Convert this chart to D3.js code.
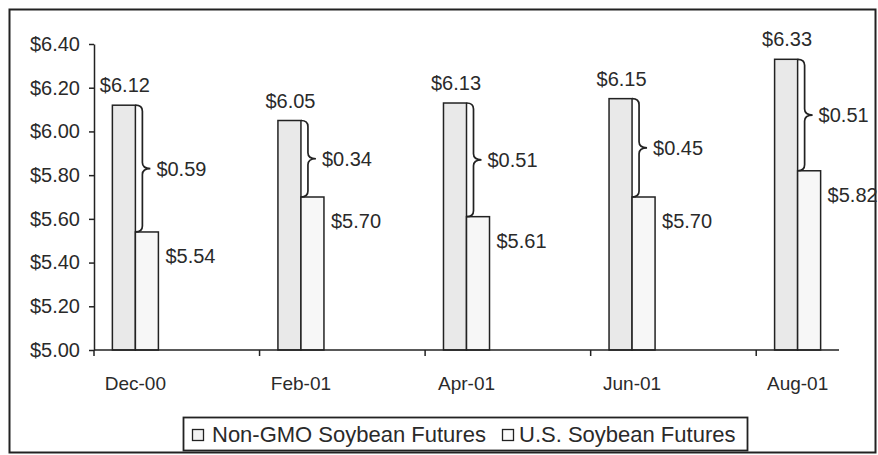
<!DOCTYPE html>
<html>
<head>
<meta charset="utf-8">
<script src="https://cdn.jsdelivr.net/npm/d3@7"></script>
<style>
  html, body { margin: 0; padding: 0; background: #fff; }
  svg { display: block; }
  text { font-family: "Liberation Sans", Arial, sans-serif; fill: #2a2a2a; }
</style>
</head>
<body>
<svg id="chart" width="878" height="455"></svg>
<script>
// ---- data ----
const months = ["Dec-00","Jan-01","Feb-01","Mar-01","Apr-01","May-01","Jun-01","Jul-01","Aug-01"];
const categories = ["Dec-00","Feb-01","Apr-01","Jun-01","Aug-01"];
const nonGMO = [6.12, 6.05, 6.13, 6.15, 6.33];
const usSoy = [5.54, 5.70, 5.61, 5.70, 5.82];
const premium = [0.59, 0.34, 0.51, 0.45, 0.51];
const yTicks = [5.00, 5.20, 5.40, 5.60, 5.80, 6.00, 6.20, 6.40];
const seriesNames = ["Non-GMO Soybean Futures", "U.S. Soybean Futures"];

// ---- layout ----
const svg = d3.select("#chart");
const plot = { left: 94, right: 839, top: 44, bottom: 350 };

// outer border
svg.append("rect").attr("x", 9.5).attr("y", 9.5).attr("width", 866).attr("height", 443)
  .attr("fill", "#fff").attr("stroke", "#222").attr("stroke-width", 2);

const x = d3.scaleBand().domain(months).range([plot.left, plot.right]).padding(0);
const y = d3.scaleLinear().domain([5.0, 6.4]).range([plot.bottom, plot.top]);
const barW = x.bandwidth() * 0.278;
const fmt = d3.format("$.2f");

// y axis
const yAxis = svg.append("g").attr("transform", `translate(${plot.left},0)`)
  .call(d3.axisLeft(y).tickValues(yTicks).tickFormat(fmt).tickSize(5).tickSizeOuter(0).tickPadding(9));
yAxis.select(".domain").attr("stroke", "#222").attr("stroke-width", 1.5);
yAxis.selectAll(".tick line").attr("stroke", "#222").attr("stroke-width", 1.5);
yAxis.selectAll(".tick text").attr("font-size", 20).attr("fill", "#2a2a2a")
  .style("font-family", '"Liberation Sans", Arial, sans-serif');

// bars
const data = categories.map((c, i) => ({ c, a: nonGMO[i], b: usSoy[i], p: premium[i] }));
const g = svg.append("g");
data.forEach(d => {
  const cx = x(d.c) + x.bandwidth() / 2;
  g.append("rect").attr("x", cx - barW).attr("y", y(d.a)).attr("width", barW)
    .attr("height", y(5.0) - y(d.a)).attr("fill", "#e9e9e9").attr("stroke", "#222").attr("stroke-width", 1.5);
  g.append("rect").attr("x", cx).attr("y", y(d.b)).attr("width", barW)
    .attr("height", y(5.0) - y(d.b)).attr("fill", "#f7f7f7").attr("stroke", "#222").attr("stroke-width", 1.5);

  // value labels
  g.append("text").attr("x", cx - barW / 2 + 1).attr("y", y(d.a) - 13)
    .attr("text-anchor", "middle").attr("font-size", 20).text(fmt(d.a));
  g.append("text").attr("x", cx + barW + 7).attr("y", y(d.b) + 31)
    .attr("text-anchor", "start").attr("font-size", 20).text(fmt(d.b));

  // brace
  const x0 = cx, yT = y(d.a), yB = y(d.b), yM = (yT + yB) / 2;
  const path = `M${x0},${yT} Q${x0 + 7},${yT} ${x0 + 7},${yT + 6} L${x0 + 7},${yM - 6} Q${x0 + 7},${yM} ${x0 + 15},${yM} Q${x0 + 7},${yM} ${x0 + 7},${yM + 6} L${x0 + 7},${yB - 6} Q${x0 + 7},${yB} ${x0},${yB}`;
  g.append("path").attr("d", path).attr("fill", "none").attr("stroke", "#222").attr("stroke-width", 1.7);
  g.append("text").attr("x", x0 + 21).attr("y", yM).attr("dy", "0.35em")
    .attr("text-anchor", "start").attr("font-size", 20).text(fmt(d.p));
});

// x axis
const xg = svg.append("g");
xg.append("line").attr("x1", plot.left).attr("x2", plot.right).attr("y1", plot.bottom).attr("y2", plot.bottom)
  .attr("stroke", "#222").attr("stroke-width", 1.5);
categories.forEach(c => {
  xg.append("line").attr("x1", x(c)).attr("x2", x(c)).attr("y1", plot.bottom).attr("y2", plot.bottom + 6)
    .attr("stroke", "#222").attr("stroke-width", 1.5);
  xg.append("text").attr("x", x(c) + x.bandwidth() / 2).attr("y", 390)
    .attr("text-anchor", "middle").attr("font-size", 19).text(c);
});

// legend
const lg = svg.append("g");
lg.append("rect").attr("x", 183.5).attr("y", 417.5).attr("width", 564).attr("height", 33)
  .attr("fill", "#fff").attr("stroke", "#222").attr("stroke-width", 1.8);
const legendPos = [{ mx: 192, tx: 212 }, { mx: 502, tx: 519 }];
seriesNames.forEach((n, i) => {
  lg.append("rect").attr("x", legendPos[i].mx + 0.5).attr("y", 429.5).attr("width", 11).attr("height", 11)
    .attr("fill", i === 0 ? "#f2f2f2" : "#fafafa").attr("stroke", "#222").attr("stroke-width", 1.3);
  lg.append("text").attr("x", legendPos[i].tx).attr("y", 442).attr("font-size", 22).text(n);
});
</script>
</body>
</html>
